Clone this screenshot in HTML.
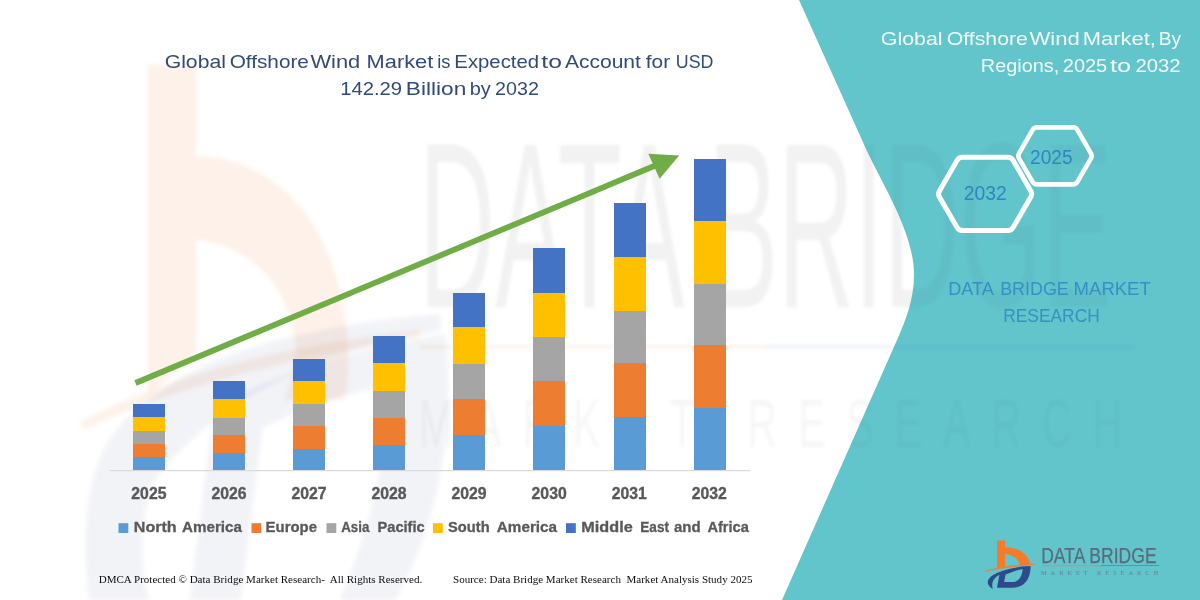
<!DOCTYPE html>
<html lang="en">
<head>
<meta charset="utf-8">
<title>Global Offshore Wind Market</title>
<style>
html,body{margin:0;padding:0;background:#fff;}
body{width:1200px;height:600px;overflow:hidden;font-family:"Liberation Sans",sans-serif;}
svg{display:block;}
.sans{font-family:"Liberation Sans",sans-serif;}
.serif{font-family:"Liberation Serif",serif;}
</style>
</head>
<body>
<svg width="1200" height="600" viewBox="0 0 1200 600">
<defs>
<filter id="blur1" x="-5%" y="-5%" width="110%" height="110%"><feGaussianBlur stdDeviation="1.6"/></filter>
<filter id="blur2" x="-5%" y="-5%" width="110%" height="110%"><feGaussianBlur stdDeviation="2"/></filter>
<clipPath id="panelclip"><path d="M799 0 L862 140 C880 182 914 230 914 275 C914 300 905 322 897 340 L782 600 L1200 600 L1200 0 Z"/></clipPath>
</defs>
<rect width="1200" height="600" fill="#ffffff"/>

<!-- faint watermark logo on the left -->
<g id="wm-logo" filter="url(#blur2)">
<path d="M148 65 H196 V156 C260 156 335 205 347 335 C350 362 348 385 344 400 L285 400 C292 380 297 360 295 340 C288 285 250 245 196 240 V352 L148 395 Z" fill="#ED7D31" fill-opacity="0.11"/>
<path d="M80 422 C150 385 250 350 420 330 L420 338 C260 362 160 395 84 430 Z" fill="#ED7D31" fill-opacity="0.10"/>
<path d="M90 600 C80 540 88 480 105 448 C120 420 160 385 213 362 C280 335 360 320 440 315 L440 330 C380 340 300 365 235 405 C190 435 160 470 153 483 C140 510 138 560 148 600 Z" fill="#2F4A8A" fill-opacity="0.075"/>
<path d="M215 405 C290 370 370 345 445 335 C455 420 440 520 395 600 L340 600 C375 520 390 440 385 385 C340 395 295 410 262 428 L240 600 L190 600 Z" fill="#2F4A8A" fill-opacity="0.075"/>
</g>

<!-- faint watermark wordmark (white side) -->
<g id="wm-text" class="sans" fill="#000000" fill-opacity="0.05" filter="url(#blur1)">
<text x="419" y="307" font-size="235" textLength="693" lengthAdjust="spacingAndGlyphs">DATA BRIDGE</text>
<text transform="translate(419,447) scale(0.6,1)" font-size="68" textLength="1172" lengthAdjust="spacing" fill-opacity="0.035">MARKET RESEARCH</text>
<rect x="420" y="345" width="345" height="3.5" fill="#ED7D31" fill-opacity="0.09"/>
<rect x="765" y="345" width="150" height="3.5" fill="#4472C4" fill-opacity="0.08"/>
</g>

<!-- teal panel -->
<path id="panel" d="M799 0 L862 140 C880 182 914 230 914 275 C914 300 905 322 897 340 L782 600 L1200 600 L1200 0 Z" fill="#63C5CC"/>

<!-- faint watermark wordmark (teal side) -->
<g class="sans" fill="#003040" fill-opacity="0.028" filter="url(#blur1)" clip-path="url(#panelclip)">
<text x="419" y="307" font-size="235" textLength="693" lengthAdjust="spacingAndGlyphs">DATA BRIDGE</text>
<text transform="translate(419,447) scale(0.6,1)" font-size="68" textLength="1172" lengthAdjust="spacing">MARKET RESEARCH</text>
<rect x="780" y="345" width="353" height="3.5" fill="#2050A0" fill-opacity="0.06"/>
</g>

<!-- chart title -->
<g class="sans" fill="#324A7A" font-size="19">
<text x="164.7" y="67.6" textLength="61.20" lengthAdjust="spacingAndGlyphs">Global</text>
<text x="229.7" y="67.6" textLength="79.20" lengthAdjust="spacingAndGlyphs">Offshore</text>
<text x="310.40000000000003" y="67.6" textLength="49.90" lengthAdjust="spacingAndGlyphs">Wind</text>
<text x="366.6" y="67.6" textLength="66.70" lengthAdjust="spacingAndGlyphs">Market</text>
<text x="437.3" y="67.6" textLength="13.20" lengthAdjust="spacingAndGlyphs">is</text>
<text x="454.35" y="67.6" textLength="84.75" lengthAdjust="spacingAndGlyphs">Expected</text>
<text x="541.3000000000001" y="67.6" textLength="20.60" lengthAdjust="spacingAndGlyphs">to</text>
<text x="564.9" y="67.6" textLength="76.00" lengthAdjust="spacingAndGlyphs">Account</text>
<text x="645.8000000000001" y="67.6" textLength="24.30" lengthAdjust="spacingAndGlyphs">for</text>
<text x="675.8000000000001" y="67.6" textLength="37.60" lengthAdjust="spacingAndGlyphs">USD</text>
<text x="340.20000000000005" y="95.1" textLength="61.90" lengthAdjust="spacingAndGlyphs">142.29</text>
<text x="405.85" y="95.1" textLength="60.45" lengthAdjust="spacingAndGlyphs">Billion</text>
<text x="469.70000000000005" y="95.1" textLength="21.10" lengthAdjust="spacingAndGlyphs">by</text>
<text x="495.1" y="95.1" textLength="43.80" lengthAdjust="spacingAndGlyphs">2032</text>
</g>

<!-- axis -->
<rect x="110" y="470" width="640" height="1.2" fill="#D9D9D9"/>

<!-- bars -->
<g id="bars" shape-rendering="crispEdges">
<rect x="133.20" y="403.75" width="32" height="13.50" fill="#4472C4"/>
<rect x="133.20" y="417.25" width="32" height="13.75" fill="#FFC000"/>
<rect x="133.20" y="431" width="32" height="13.00" fill="#A5A5A5"/>
<rect x="133.20" y="444" width="32" height="12.50" fill="#ED7D31"/>
<rect x="133.20" y="456.5" width="32" height="13.30" fill="#5B9BD5"/>
<rect x="213.25" y="381.25" width="32" height="18.00" fill="#4472C4"/>
<rect x="213.25" y="399.25" width="32" height="18.25" fill="#FFC000"/>
<rect x="213.25" y="417.5" width="32" height="17.50" fill="#A5A5A5"/>
<rect x="213.25" y="435" width="32" height="18.25" fill="#ED7D31"/>
<rect x="213.25" y="453.25" width="32" height="16.55" fill="#5B9BD5"/>
<rect x="293.30" y="358.75" width="32" height="22.50" fill="#4472C4"/>
<rect x="293.30" y="381.25" width="32" height="22.50" fill="#FFC000"/>
<rect x="293.30" y="403.75" width="32" height="22.50" fill="#A5A5A5"/>
<rect x="293.30" y="426.25" width="32" height="22.50" fill="#ED7D31"/>
<rect x="293.30" y="448.75" width="32" height="21.05" fill="#5B9BD5"/>
<rect x="373.35" y="336.25" width="32" height="26.75" fill="#4472C4"/>
<rect x="373.35" y="363" width="32" height="27.75" fill="#FFC000"/>
<rect x="373.35" y="390.75" width="32" height="26.75" fill="#A5A5A5"/>
<rect x="373.35" y="417.5" width="32" height="27.00" fill="#ED7D31"/>
<rect x="373.35" y="444.5" width="32" height="25.30" fill="#5B9BD5"/>
<rect x="453.40" y="292.5" width="32" height="34.50" fill="#4472C4"/>
<rect x="453.40" y="327" width="32" height="36.75" fill="#FFC000"/>
<rect x="453.40" y="363.75" width="32" height="35.25" fill="#A5A5A5"/>
<rect x="453.40" y="399" width="32" height="36.00" fill="#ED7D31"/>
<rect x="453.40" y="435" width="32" height="34.80" fill="#5B9BD5"/>
<rect x="533.45" y="247.5" width="32" height="45.00" fill="#4472C4"/>
<rect x="533.45" y="292.5" width="32" height="44.50" fill="#FFC000"/>
<rect x="533.45" y="337" width="32" height="44.25" fill="#A5A5A5"/>
<rect x="533.45" y="381.25" width="32" height="45.00" fill="#ED7D31"/>
<rect x="533.45" y="426.25" width="32" height="43.55" fill="#5B9BD5"/>
<rect x="613.50" y="202.5" width="32" height="54.00" fill="#4472C4"/>
<rect x="613.50" y="256.5" width="32" height="54.00" fill="#FFC000"/>
<rect x="613.50" y="310.5" width="32" height="52.50" fill="#A5A5A5"/>
<rect x="613.50" y="363" width="32" height="54.25" fill="#ED7D31"/>
<rect x="613.50" y="417.25" width="32" height="52.55" fill="#5B9BD5"/>
<rect x="693.55" y="158.75" width="32" height="61.75" fill="#4472C4"/>
<rect x="693.55" y="220.5" width="32" height="63.25" fill="#FFC000"/>
<rect x="693.55" y="283.75" width="32" height="61.25" fill="#A5A5A5"/>
<rect x="693.55" y="345" width="32" height="63.25" fill="#ED7D31"/>
<rect x="693.55" y="408.25" width="32" height="61.55" fill="#5B9BD5"/>
</g>

<!-- arrow -->
<g id="arrow">
<line x1="135.5" y1="383" x2="656" y2="165.2" stroke="#70AD47" stroke-width="5.8" stroke-linecap="butt"/>
<polygon points="648.3,153.8 679.2,155.6 659.6,178.8" fill="#70AD47"/>
</g>

<!-- year labels -->
<g class="sans" font-weight="bold" font-size="15.6" fill="#595959" stroke="#595959" stroke-width="0.35">
<text x="148.90" y="499" text-anchor="middle" textLength="35.1" lengthAdjust="spacingAndGlyphs">2025</text>
<text x="228.95" y="499" text-anchor="middle" textLength="35.1" lengthAdjust="spacingAndGlyphs">2026</text>
<text x="309.00" y="499" text-anchor="middle" textLength="35.1" lengthAdjust="spacingAndGlyphs">2027</text>
<text x="389.05" y="499" text-anchor="middle" textLength="35.1" lengthAdjust="spacingAndGlyphs">2028</text>
<text x="469.10" y="499" text-anchor="middle" textLength="35.1" lengthAdjust="spacingAndGlyphs">2029</text>
<text x="549.15" y="499" text-anchor="middle" textLength="35.1" lengthAdjust="spacingAndGlyphs">2030</text>
<text x="629.20" y="499" text-anchor="middle" textLength="35.1" lengthAdjust="spacingAndGlyphs">2031</text>
<text x="709.25" y="499" text-anchor="middle" textLength="35.1" lengthAdjust="spacingAndGlyphs">2032</text>
</g>

<!-- legend -->
<g id="legend" class="sans" font-weight="bold" font-size="15" fill="#595959" stroke="#595959" stroke-width="0.3">
<rect x="118.5" y="523.2" width="9.8" height="9.8" fill="#5B9BD5" stroke="none"/>
<rect x="251.5" y="523.2" width="9.8" height="9.8" fill="#ED7D31" stroke="none"/>
<rect x="326.5" y="523.2" width="9.8" height="9.8" fill="#A5A5A5" stroke="none"/>
<rect x="433" y="523.2" width="9.8" height="9.8" fill="#FFC000" stroke="none"/>
<rect x="566" y="523.2" width="9.8" height="9.8" fill="#4472C4" stroke="none"/>
<text x="133.8" y="531.8" textLength="42.90" lengthAdjust="spacingAndGlyphs">North</text>
<text x="182.0" y="531.8" textLength="59.90" lengthAdjust="spacingAndGlyphs">America</text>
<text x="265.6" y="531.8" textLength="51.40" lengthAdjust="spacingAndGlyphs">Europe</text>
<text x="341.2" y="531.8" textLength="28.20" lengthAdjust="spacingAndGlyphs">Asia</text>
<text x="377.5" y="531.8" textLength="47.20" lengthAdjust="spacingAndGlyphs">Pacific</text>
<text x="448.1" y="531.8" textLength="41.50" lengthAdjust="spacingAndGlyphs">South</text>
<text x="496.8" y="531.8" textLength="60.30" lengthAdjust="spacingAndGlyphs">America</text>
<text x="581.3" y="531.8" textLength="51.40" lengthAdjust="spacingAndGlyphs">Middle</text>
<text x="640.3" y="531.8" textLength="28.70" lengthAdjust="spacingAndGlyphs">East</text>
<text x="674.0" y="531.8" textLength="26.70" lengthAdjust="spacingAndGlyphs">and</text>
<text x="707.4" y="531.8" textLength="41.50" lengthAdjust="spacingAndGlyphs">Africa</text>
</g>

<!-- footer -->
<g class="serif" font-size="11" fill="#0d0d0d">
<text x="98.7" y="582.5" textLength="323.5" lengthAdjust="spacingAndGlyphs" xml:space="preserve">DMCA Protected © Data Bridge Market Research-  All Rights Reserved.</text>
<text x="453" y="582.5" textLength="299.5" lengthAdjust="spacingAndGlyphs" xml:space="preserve">Source: Data Bridge Market Research  Market Analysis Study 2025</text>
</g>

<!-- right panel title -->
<g class="sans" fill="#F2FBFB" font-size="19">
<text x="880.8000000000001" y="44.7" textLength="61.80" lengthAdjust="spacingAndGlyphs">Global</text>
<text x="946.8000000000001" y="44.7" textLength="81.10" lengthAdjust="spacingAndGlyphs">Offshore</text>
<text x="1029.3999999999999" y="44.7" textLength="50.50" lengthAdjust="spacingAndGlyphs">Wind</text>
<text x="1082.8" y="44.7" textLength="73.10" lengthAdjust="spacingAndGlyphs">Market,</text>
<text x="1158.8" y="44.7" textLength="22.40" lengthAdjust="spacingAndGlyphs">By</text>
<text x="980.8000000000001" y="71.6" textLength="78.40" lengthAdjust="spacingAndGlyphs">Regions,</text>
<text x="1062.8" y="71.6" textLength="44.40" lengthAdjust="spacingAndGlyphs">2025</text>
<text x="1110.1" y="71.6" textLength="21.10" lengthAdjust="spacingAndGlyphs">to</text>
<text x="1135.3999999999999" y="71.6" textLength="45.20" lengthAdjust="spacingAndGlyphs">2032</text>
</g>

<!-- hexagons -->
<g fill="none" stroke="#ffffff" stroke-linejoin="round">
<path d="M939.43 196.90 A6 6 0 0 1 939.43 190.90 L957.10 160.30 A6 6 0 0 1 962.30 157.30 L1007.90 157.30 A6 6 0 0 1 1013.10 160.30 L1030.77 190.90 A6 6 0 0 1 1030.77 196.90 L1013.10 227.50 A6 6 0 0 1 1007.90 230.50 L962.30 230.50 A6 6 0 0 1 957.10 227.50 Z" stroke-width="5"/>
<path d="M1019.04 158.40 A5 5 0 0 1 1019.04 153.40 L1032.61 129.90 A5 5 0 0 1 1036.94 127.40 L1073.06 127.40 A5 5 0 0 1 1077.39 129.90 L1090.96 153.40 A5 5 0 0 1 1090.96 158.40 L1077.39 181.90 A5 5 0 0 1 1073.06 184.40 L1036.94 184.40 A5 5 0 0 1 1032.61 181.90 Z" stroke-width="4.6"/>
</g>
<g class="sans" fill="#2E86C1" font-size="19.3" text-anchor="middle">
<text x="985.2" y="200" textLength="43" lengthAdjust="spacingAndGlyphs">2032</text>
<text x="1051.3" y="164" textLength="42.5" lengthAdjust="spacingAndGlyphs">2025</text>
</g>

<!-- DBMR caption -->
<g class="sans" fill="#3590C5" font-size="18.5">
<text x="948.2" y="295.4" textLength="45.60" lengthAdjust="spacingAndGlyphs">DATA</text>
<text x="1000.2" y="295.4" textLength="68.60" lengthAdjust="spacingAndGlyphs">BRIDGE</text>
<text x="1073.6000000000001" y="295.4" textLength="77.20" lengthAdjust="spacingAndGlyphs">MARKET</text>
<text x="1003.2" y="322" textLength="96.60" lengthAdjust="spacingAndGlyphs">RESEARCH</text>
</g>

<!-- logo bottom right -->
<g id="logo">
<g transform="translate(980,535) scale(0.1)">
<path d="M170 55 H250 V125 C370 118 488 180 502 296 L398 302 C392 240 330 195 250 190 V314 L170 332 Z" fill="#F47B2A"/>
<path d="M58 360 C200 318 380 296 548 294 C380 306 200 332 58 360 Z" fill="#F47B2A" stroke="#F47B2A" stroke-width="6"/>
<path d="M128 540 C20 470 90 390 300 338 C370 322 440 314 506 311 C508 400 470 527 330 527 H170 L194 398 C140 430 110 470 128 540 Z M256 396 C310 372 370 352 426 340 C426 400 390 470 330 470 H241 Z" fill="#2F4A8A" fill-rule="evenodd"/>
</g>
<text class="sans" x="1041.2" y="562.6" font-size="21.2" fill="#5B6B7C" stroke="#5B6B7C" stroke-width="0.25" textLength="115.4" lengthAdjust="spacingAndGlyphs">DATA BRIDGE</text>
<rect x="1042.5" y="565.4" width="58.5" height="0.8" fill="#F47B2A" fill-opacity="0.75"/>
<rect x="1101" y="565" width="58" height="0.8" fill="#3F6FB5" fill-opacity="0.7"/>
<text class="serif" x="1041" y="575.4" font-size="6.4" fill="#5B6B7C" fill-opacity="0.75" textLength="117" lengthAdjust="spacing">MARKET RESEARCH</text>
</g>
</svg>
</body>
</html>
